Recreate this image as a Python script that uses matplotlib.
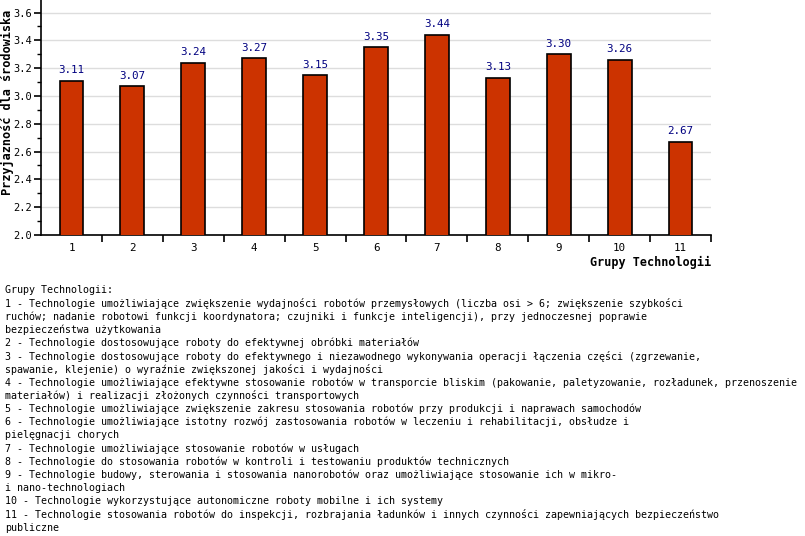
import matplotlib
matplotlib.use('Agg')
import matplotlib.pyplot as plt
from matplotlib.ticker import MultipleLocator, FixedLocator, NullFormatter, FormatStrFormatter

# dane z wykresu
groups = ['1', '2', '3', '4', '5', '6', '7', '8', '9', '10', '11']
scores = [3.11, 3.07, 3.24, 3.27, 3.15, 3.35, 3.44, 3.13, 3.30, 3.26, 2.67]
y_label = 'Przyjazność dla środowiska'
x_label = 'Grupy Technologii'
legend_lines = [
    'Grupy Technologii:',
    '1 - Technologie umożliwiające zwiększenie wydajności robotów przemysłowych (liczba osi > 6; zwiększenie szybkości',
    'ruchów; nadanie robotowi funkcji koordynatora; czujniki i funkcje inteligencji), przy jednoczesnej poprawie',
    'bezpieczeństwa użytkowania',
    '2 - Technologie dostosowujące roboty do efektywnej obróbki materiałów',
    '3 - Technologie dostosowujące roboty do efektywnego i niezawodnego wykonywania operacji łączenia części (zgrzewanie,',
    'spawanie, klejenie) o wyraźnie zwiększonej jakości i wydajności',
    '4 - Technologie umożliwiające efektywne stosowanie robotów w transporcie bliskim (pakowanie, paletyzowanie, rozładunek, przenoszenie',
    'materiałów) i realizacji złożonych czynności transportowych',
    '5 - Technologie umożliwiające zwiększenie zakresu stosowania robotów przy produkcji i naprawach samochodów',
    '6 - Technologie umożliwiające istotny rozwój zastosowania robotów w leczeniu i rehabilitacji, obsłudze i',
    'pielęgnacji chorych',
    '7 - Technologie umożliwiające stosowanie robotów w usługach',
    '8 - Technologie do stosowania robotów w kontroli i testowaniu produktów technicznych',
    '9 - Technologie budowy, sterowania i stosowania nanorobotów oraz umożliwiające stosowanie ich w mikro-',
    'i nano-technologiach',
    '10 - Technologie wykorzystujące autonomiczne roboty mobilne i ich systemy',
    '11 - Technologie stosowania robotów do inspekcji, rozbrajania ładunków i innych czynności zapewniających bezpieczeństwo',
    'publiczne',
]

W, H = 805, 536
MONO = 'DejaVu Sans Mono'

fig = plt.figure(figsize=(W / 100, H / 100), dpi=100)
ax = fig.add_axes([41 / W, 1 - 235 / H, 670 / W, 235 / H])

x = list(range(len(groups)))
ax.bar(x, scores, width=0.39, color='#cc3300', edgecolor='black', linewidth=1.2,
       zorder=3)
for xi, v in zip(x, scores):
    ax.annotate(f'{v:.2f}', (xi, v), xytext=(0, 4), textcoords='offset points',
                ha='center', va='bottom', color='#000080', fontsize=7.8,
                family=MONO)

ax.set_xlim(-0.5, len(groups) - 0.5)
ax.set_ylim(2.0, 3.69)

# siatka i osie
ax.yaxis.set_major_locator(MultipleLocator(0.2))
ax.yaxis.set_minor_locator(MultipleLocator(0.1))
ax.yaxis.set_major_formatter(FormatStrFormatter('%.1f'))
ax.grid(axis='y', color='#dddddd', linewidth=1, zorder=0)
for s in ['top', 'right']:
    ax.spines[s].set_visible(False)
ax.spines['left'].set_linewidth(1.2)
ax.spines['bottom'].set_linewidth(1.2)

ax.xaxis.set_major_locator(FixedLocator([i + 0.5 for i in x]))
ax.xaxis.set_major_formatter(NullFormatter())
ax.xaxis.set_minor_locator(FixedLocator(x))
ax.set_xticklabels(groups, minor=True)
ax.tick_params(axis='x', which='major', length=5, width=1.2, direction='out')
ax.tick_params(axis='x', which='minor', length=0, pad=6, labelsize=7.8)
ax.tick_params(axis='y', which='major', length=5, width=1.2, labelsize=7.5, pad=1.5)
ax.tick_params(axis='y', which='minor', length=3, width=1)
for lab in ax.get_xticklabels(minor=True) + ax.get_yticklabels():
    lab.set_family(MONO)

fig.text(7 / W, 1 - 102 / H, y_label, family=MONO, fontweight='bold',
         fontsize=8.6, rotation=90, ha='center', va='center')
fig.text(711 / W, 1 - 262 / H, x_label, family=MONO, fontweight='bold',
         fontsize=8.5, ha='right', va='center')

# opis grup
for i, line in enumerate(legend_lines):
    fig.text(5 / W, 1 - (290 + i * 13.2) / H, line, family=MONO, fontsize=7.2,
             ha='left', va='center')

fig.savefig('out.png', dpi=100)
